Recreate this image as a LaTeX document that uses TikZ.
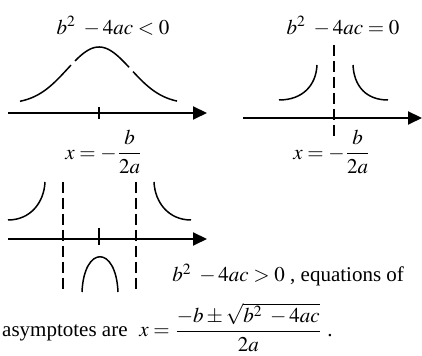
\documentclass[tikz,border=0pt]{standalone}
\usepackage{amsmath}
\usepackage{mathptmx}
\usepackage[no-math]{fontspec}
\setmainfont{Liberation Serif}
\usetikzlibrary{arrows.meta}
\tikzstyle{axis} = [line width=1pt, -{Triangle[length=7pt,width=6.5pt]}]
\tikzstyle{graph} = [line width=0.75pt]
\tikzstyle{asym} = [line width=0.75pt, dash pattern=on 5.5pt off 2.5pt]
\tikzstyle{tick} = [line width=0.75pt]
\tikzstyle{lbl} = [inner sep=0pt]

\begin{document}
\begin{tikzpicture}[x=0.5pt, y=-0.5pt, font=\fontsize{10.5}{12.6}\selectfont]
\useasboundingbox (0,0) rectangle (422,356);
% b^2-4ac<0
\node[lbl] (disc1) at (113,26) {$b^{2}\;-4ac<0$};
\coordinate (ax1s) at (8,113);
\coordinate (ax1e) at (207,113);
\draw[axis] (ax1s) -- (ax1e);
\coordinate (tk1t) at (99,107);
\coordinate (tk1b) at (99,119);
\draw[tick] (tk1t) -- (tk1b);
\draw[graph] plot[domain=20:71, samples=30] (\x, {104-57*exp(-(\x-99)*(\x-99)/2048)});
\draw[graph] plot[domain=75:129, samples=30] (\x, {104-57*exp(-(\x-99)*(\x-99)/2048)});
\draw[graph] plot[domain=133:177, samples=30] (\x, {104-57*exp(-(\x-99)*(\x-99)/2048)});
\node[lbl] (vert1) at (104,152) {$x=-\dfrac{b}{2a}$};

% b^2-4ac=0
\node[lbl] (disc2) at (343,26) {$b^{2}\;-4ac=0$};
\coordinate (ax2s) at (243,118);
\coordinate (ax2e) at (422,118);
\draw[axis] (ax2s) -- (ax2e);
\coordinate (as2t) at (334,45);
\coordinate (as2b) at (334,138);
\draw[asym] (as2t) -- (as2b);
\draw[graph] (279,100) .. controls (302,100) and (316,86) .. (317,65);
\draw[graph] (353,65) .. controls (354,86) and (366,100) .. (388,100);
\node[lbl] (vert2) at (332,152) {$x=-\dfrac{b}{2a}$};

% b^2-4ac>0
\coordinate (ax3s) at (8,239);
\coordinate (ax3e) at (207,239);
\draw[axis] (ax3s) -- (ax3e);
\coordinate (as3lt) at (63,182);
\coordinate (as3lb) at (63,292);
\coordinate (as3rt) at (136,182);
\coordinate (as3rb) at (136,292);
\draw[asym] (as3lt) -- (as3lb);
\draw[asym] (as3rt) -- (as3rb);
\coordinate (tk3t) at (99,228);
\coordinate (tk3b) at (99,245);
\draw[tick] (tk3t) -- (tk3b);
\draw[graph] (8,220) .. controls (30,220) and (44,203) .. (45,182);
\draw[graph] (154,182) .. controls (155,203) and (169,220) .. (191,220);
\draw[graph] (82,292) .. controls (84,245) and (116,245) .. (118,292);
\node[lbl, anchor=base west] (cond3) at (172,282) {$b^{2}\;-4ac>0$ , equations of};
\node[lbl, anchor=base east] (asymtxt) at (128,337) {asymptotes are};
\node[lbl, anchor=base west] (roots) at (139,337) {$x=\dfrac{-b\pm\sqrt{b^{2}\;-4ac}}{2a}$ .};
\end{tikzpicture}
\end{document}
